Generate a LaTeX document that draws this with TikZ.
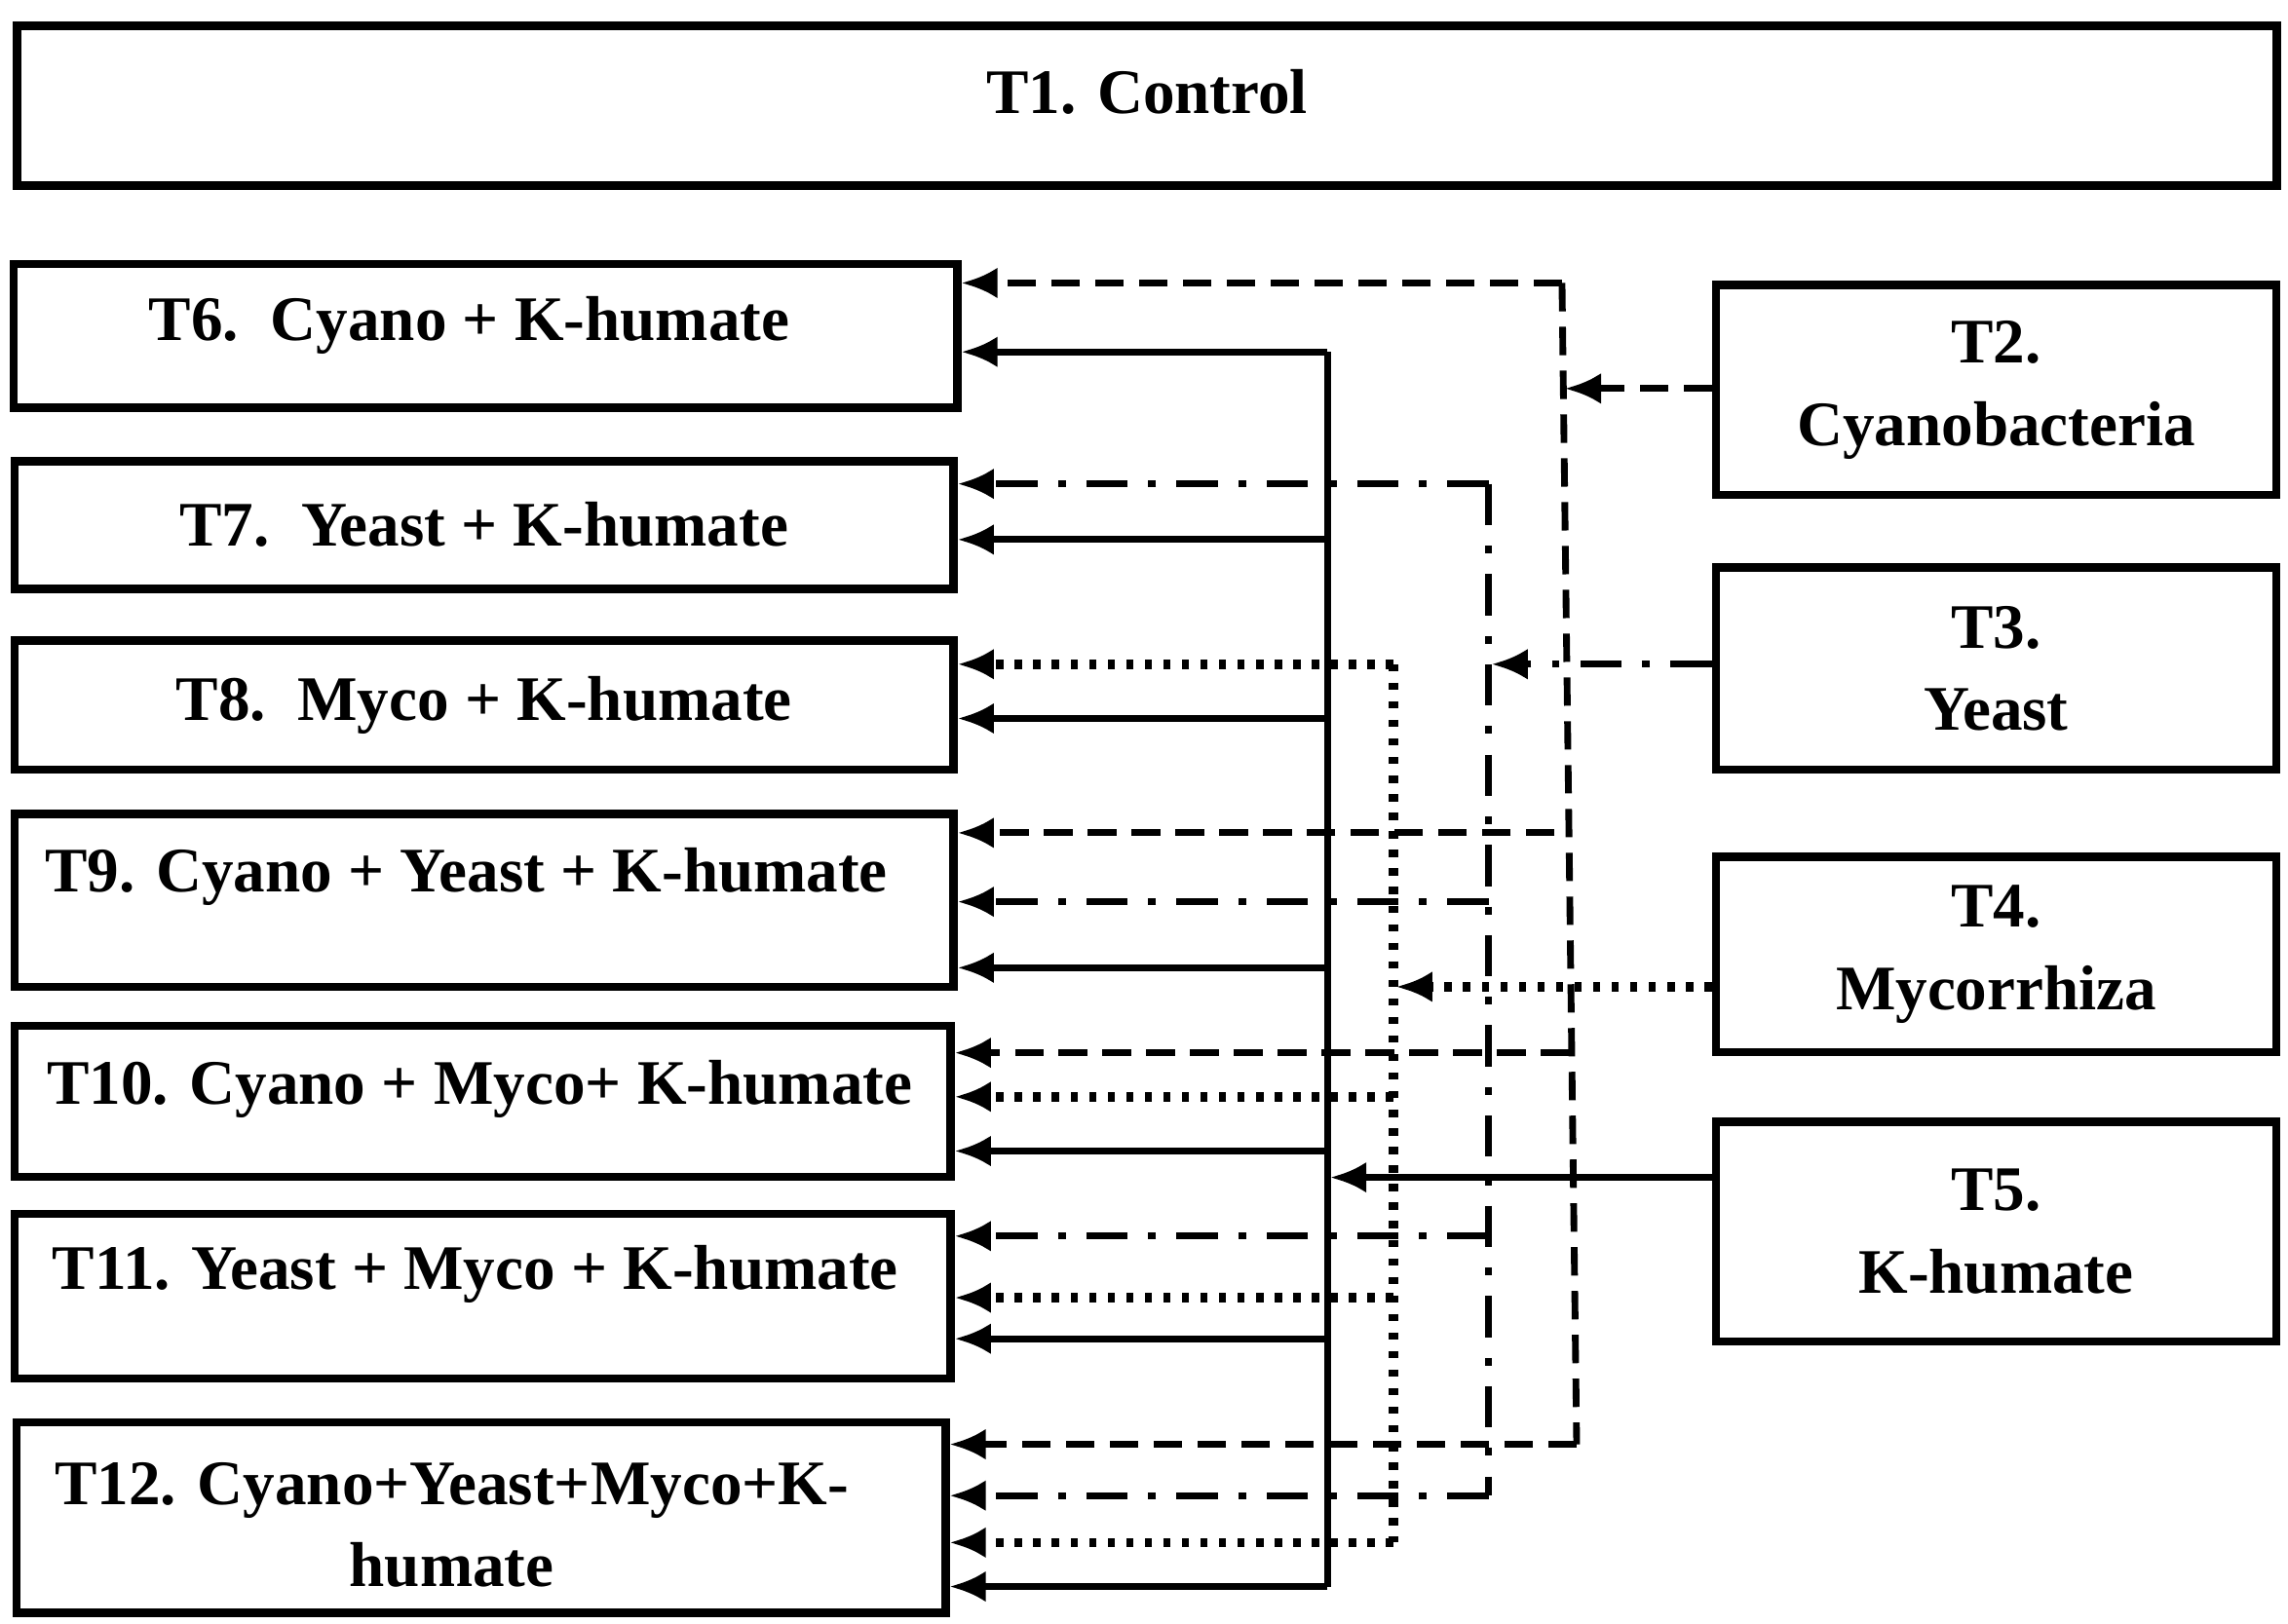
\documentclass[tikz,border=0pt]{standalone}
\usepackage{fontspec}
\setmainfont{Liberation Serif}
\usepackage{tikz}
\usetikzlibrary{arrows.meta}

\tikzset{
  box/.style={draw,line width=1.6pt,inner sep=0pt,font=\fontsize{12.3}{16}\selectfont\bfseries,align=center},
  lbl/.style={font=\fontsize{12.3}{16}\selectfont\bfseries,align=center},
  cyan line/.style={line width=1.3pt,dash pattern=on 5.5pt off 3pt},
  yeast line/.style={line width=1.3pt,dash pattern=on 8pt off 4pt on 1.5pt off 4pt},
  myco line/.style={line width=1.8pt,dash pattern=on 1.4pt off 2.2pt},
  humate line/.style={line width=1.3pt},
  tip/.style={-{Latex[length=7pt,width=6pt]}}
}

\begin{document}
\begin{tikzpicture}[x=0.01cm,y=-0.01cm]
  \useasboundingbox (0,0) rectangle (1560,1107);
  % boxes
  \node[box,minimum width=15.4cm,minimum height=1.09cm] (t1) at (782,72) {};
  \node[lbl] at (782,63) {T1. Control};
  \node[box,minimum width=6.43cm,minimum height=0.98cm] (t6) at (331,229) {};
  \node[lbl] at (320,222) {T6.\ \ Cyano + K-humate};
  \node[box,minimum width=6.40cm,minimum height=0.87cm] (t7) at (330,358) {T7.\ \ Yeast + K-humate};
  \node[box,minimum width=6.40cm,minimum height=0.88cm] (t8) at (330,481) {T8.\ \ Myco + K-humate};
  \node[box,minimum width=6.40cm,minimum height=1.18cm] (t9) at (330,614) {};
  \node[lbl] at (318,598) {T9. Cyano + Yeast + K-humate};
  \node[box,minimum width=6.38cm,minimum height=1.03cm] (t10) at (329,751) {};
  \node[lbl] at (327,743) {T10. Cyano + Myco+ K-humate};
  \node[box,minimum width=6.38cm,minimum height=1.12cm] (t11) at (329,884) {};
  \node[lbl] at (324,869) {T11. Yeast + Myco + K-humate};
  \node[box,minimum width=6.33cm,minimum height=1.30cm] (t12) at (328,1035) {};
  \node[lbl] at (308,1040) {T12. Cyano+Yeast+Myco+K-\\humate};
  \node[box,minimum width=3.82cm,minimum height=1.43cm] (t2) at (1361,266) {T2.\\Cyanobacteria};
  \node[box,minimum width=3.82cm,minimum height=1.38cm] (t3) at (1361,456) {T3.\\Yeast};
  \node[box,minimum width=3.82cm,minimum height=1.33cm] (t4) at (1361,651) {T4.\\Mycorrhiza};
  \node[box,minimum width=3.82cm,minimum height=1.50cm] (t5) at (1361,840) {T5.\\K-humate};
  % cyanobacteria
  \coordinate (c2) at (1067,265);
  \draw[cyan line,tip] (t2.west |- c2) -- (c2);
  \draw[cyan line] (1065,193) -- (1075,985);
  \foreach \n/\y/\x in {t6/193/1065,t9/568/1060,t10/718/1070,t12/985/1075}
    \draw[cyan line,tip] (\x,\y) -- (\n.east |- 0,\y);
  % yeast
  \coordinate (c3) at (1017,453);
  \draw[yeast line,tip] (t3.west |- c3) -- (c3);
  \draw[yeast line] (1015,330) -- (1015,1020);
  \foreach \n/\y in {t7/330,t9/615,t11/843,t12/1020}
    \draw[yeast line,tip] (1015,\y) -- (\n.east |- 0,\y);
  % mycorrhiza
  \coordinate (c4) at (952,673);
  \draw[myco line,tip] (t4.west |- c4) -- (c4);
  \draw[myco line] (950,453) -- (950,1052);
  \foreach \n/\y in {t8/453,t10/748,t11/885,t12/1052}
    \draw[myco line,tip] (950,\y) -- (\n.east |- 0,\y);
  % k-humate
  \coordinate (c5) at (907,803);
  \draw[humate line,tip] (t5.west |- c5) -- (c5);
  \draw[humate line] (905,240) -- (905,1082);
  \foreach \n/\y in {t6/240,t7/368,t8/490,t9/660,t10/785,t11/913,t12/1082}
    \draw[humate line,tip] (905,\y) -- (\n.east |- 0,\y);
\end{tikzpicture}
\end{document}
